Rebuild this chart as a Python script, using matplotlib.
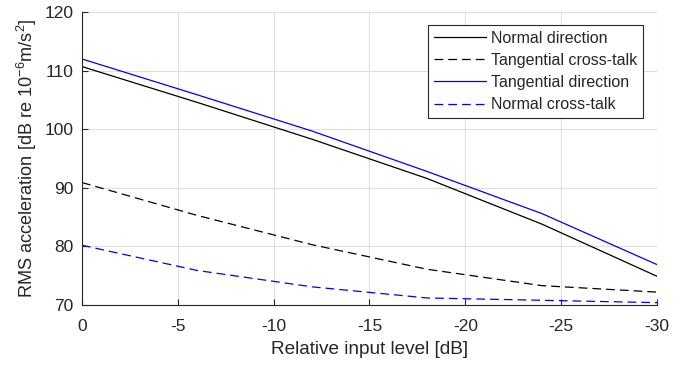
import matplotlib.pyplot as plt
import numpy as np

plt.rcParams['font.family'] = ['Liberation Sans', 'DejaVu Sans']
plt.rcParams['mathtext.default'] = 'regular'

level = [0, -6, -12, -18, -24, -30]
normal_dir = [110.7, 104.6, 98.3, 91.6, 83.8, 74.9]
tang_xtalk = [90.9, 85.3, 80.3, 76.1, 73.3, 72.2]
tang_dir = [112.0, 105.9, 99.7, 92.8, 85.6, 76.9]
normal_xtalk = [80.2, 75.9, 73.1, 71.2, 70.8, 70.4]

fig = plt.figure(figsize=(6.89, 3.67), dpi=100)
ax = fig.add_axes([0.119, 0.169, 0.8345, 0.798])

ax.plot(level, normal_dir, color='k', lw=0.9, label='Normal direction')
ax.plot(level, tang_xtalk, color='k', lw=0.9, ls=(0, (7, 4)), label='Tangential cross-talk')
ax.plot(level, tang_dir, color='#0000ff', lw=0.9, label='Tangential direction')
ax.plot(level, normal_xtalk, color='#0000ff', lw=0.9, ls=(0, (7, 4)), label='Normal cross-talk')

ax.set_xlim(0, -30)
ax.set_ylim(70, 120)
ax.set_xticks([0, -5, -10, -15, -20, -25, -30])
ax.set_xticklabels(['0', '-5', '-10', '-15', '-20', '-25', '-30'])
ax.set_yticks(np.arange(70, 121, 10))

ax.grid(True, color='#dfdfdf', lw=0.8)
ax.set_axisbelow(True)
for s in ['top', 'right']:
    ax.spines[s].set_visible(False)
for s in ['left', 'bottom']:
    ax.spines[s].set_color('#262626')
    ax.spines[s].set_linewidth(0.8)
ax.tick_params(direction='in', length=4, width=0.8, color='#262626',
               labelcolor='#262626', labelsize=12.5)
ax.tick_params(axis='x', pad=10)
ax.tick_params(axis='y', pad=6)

ax.set_xlabel('Relative input level [dB]', fontsize=13.7, color='#262626', labelpad=5)
ax.set_ylabel('RMS acceleration [dB re 10$^{-6}$m/s$^2$]', fontsize=13.1,
              color='#262626', labelpad=4)

leg = ax.legend(loc='upper right', fontsize=11.5, frameon=True, fancybox=False,
                edgecolor='#262626', framealpha=1, handlelength=3.3,
                handletextpad=0.3, borderpad=0.35, labelspacing=0.45,
                borderaxespad=0, bbox_to_anchor=(0.9757, 0.9556))
leg.get_frame().set_linewidth(0.8)
for t in leg.get_texts():
    t.set_color('#262626')

plt.savefig('out.png', dpi=100)
